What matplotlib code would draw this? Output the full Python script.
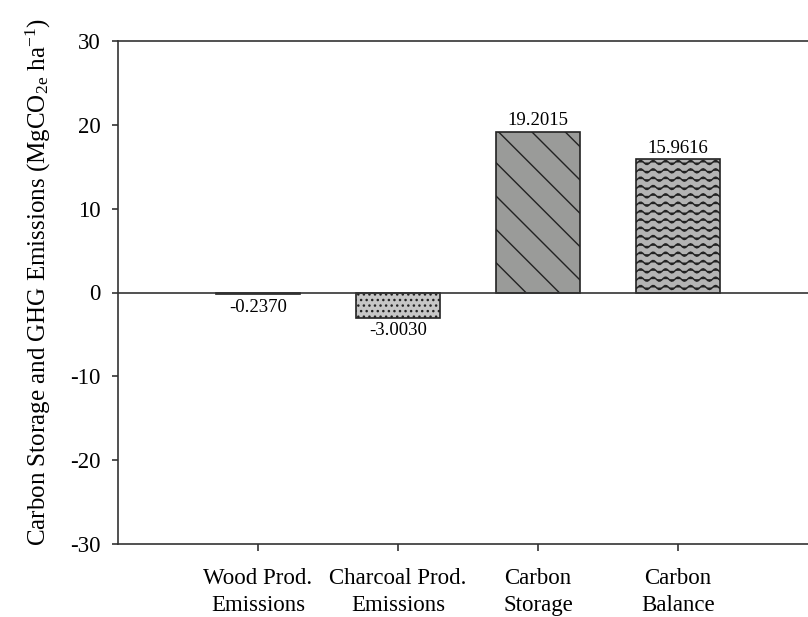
import warnings
import numpy as np
import matplotlib
matplotlib.use("Agg")
import matplotlib.pyplot as plt
import matplotlib.hatch as mhatch
from matplotlib.path import Path

# --- Data ---
categories = ['Wood Prod.\nEmissions', 'Charcoal Prod.\nEmissions',
              'Carbon\nStorage', 'Carbon\nBalance']
values = [-0.2370, -3.0030, 19.2015, 15.9616]
value_labels = ['-0.2370', '-3.0030', '19.2015', '15.9616']
yticks = [-30, -20, -10, 0, 10, 20, 30]

# --- custom wavy hatch ('~') ---
class WaveHatch(mhatch.HatchPatternBase):
    def __init__(self, hatch, density):
        self.num_rows = hatch.count('~') * density
        self.periods = 8
        self.n_pts = 64
        self.num_vertices = self.num_rows * self.n_pts

    def set_vertices_and_codes(self, vertices, codes):
        t = np.linspace(0, 1, self.n_pts)
        amp = 0.25 / max(self.num_rows, 1)
        k = 0
        for r in range(self.num_rows):
            y0 = (r + 0.5) / self.num_rows
            vertices[k:k + self.n_pts, 0] = t
            vertices[k:k + self.n_pts, 1] = y0 + amp * np.sin(2 * np.pi * self.periods * t)
            codes[k] = Path.MOVETO
            codes[k + 1:k + self.n_pts] = Path.LINETO
            k += self.n_pts

mhatch._hatch_types.append(WaveHatch)
warnings.filterwarnings("ignore")

plt.rcParams['font.family'] = ['Liberation Serif', 'DejaVu Serif']
plt.rcParams['mathtext.fontset'] = 'custom'
plt.rcParams['mathtext.rm'] = 'Liberation Serif'
plt.rcParams['mathtext.it'] = 'Liberation Serif:italic'
plt.rcParams['hatch.linewidth'] = 1.0
plt.rcParams['hatch.color'] = '#1a1a1a'

fig = plt.figure(figsize=(8.08, 6.17), dpi=100)
ax = fig.add_axes([118 / 808, 73 / 617, 700 / 808, 503 / 617])

x = np.arange(1, len(categories) + 1)
fills = ['#4a4a4a', '#c6c6c6', '#9a9b99', '#b4b4b4']
hatches = ['', '...', '\\', '~~']
bars = ax.bar(x, values, width=0.6, color=fills, edgecolor='#222222',
              linewidth=1.2, zorder=2)
for b, h in zip(bars, hatches):
    b.set_hatch(h)

ax.axhline(0, color='#333333', linewidth=1.2, zorder=3)

for b, v, lab in zip(bars, values, value_labels):
    cx = b.get_x() + b.get_width() / 2
    if v >= 0:
        ax.annotate(lab, (cx, v), xytext=(0, 1.5), textcoords='offset points',
                    ha='center', va='bottom', fontsize=13.5)
    else:
        ax.annotate(lab, (cx, v), xytext=(0, -3), textcoords='offset points',
                    ha='center', va='top', fontsize=13.5)

ax.set_xlim(0, 5)
ax.set_ylim(-30, 30)
ax.set_yticks(yticks)
ax.set_yticklabels([str(t) for t in yticks], fontsize=16.5)
ax.set_xticks(x)
ax.set_xticklabels(categories, fontsize=16.5, linespacing=1.42)
ax.tick_params(axis='y', direction='out', length=4.5, width=1.2, pad=8, color='#333333')
ax.tick_params(axis='x', direction='out', length=5, width=1.2, pad=12, color='#333333')
ax.spines['right'].set_visible(False)
for s in ['left', 'top', 'bottom']:
    ax.spines[s].set_linewidth(1.2)
    ax.spines[s].set_color('#333333')

ax.set_ylabel(r'Carbon Storage and GHG Emissions (MgCO$_{\mathrm{2e}}$ ha$^{\mathrm{-1}}$)',
              fontsize=18, labelpad=12)
ax.yaxis.label.set_y(0.52)

fig.savefig('out.png', dpi=100)
